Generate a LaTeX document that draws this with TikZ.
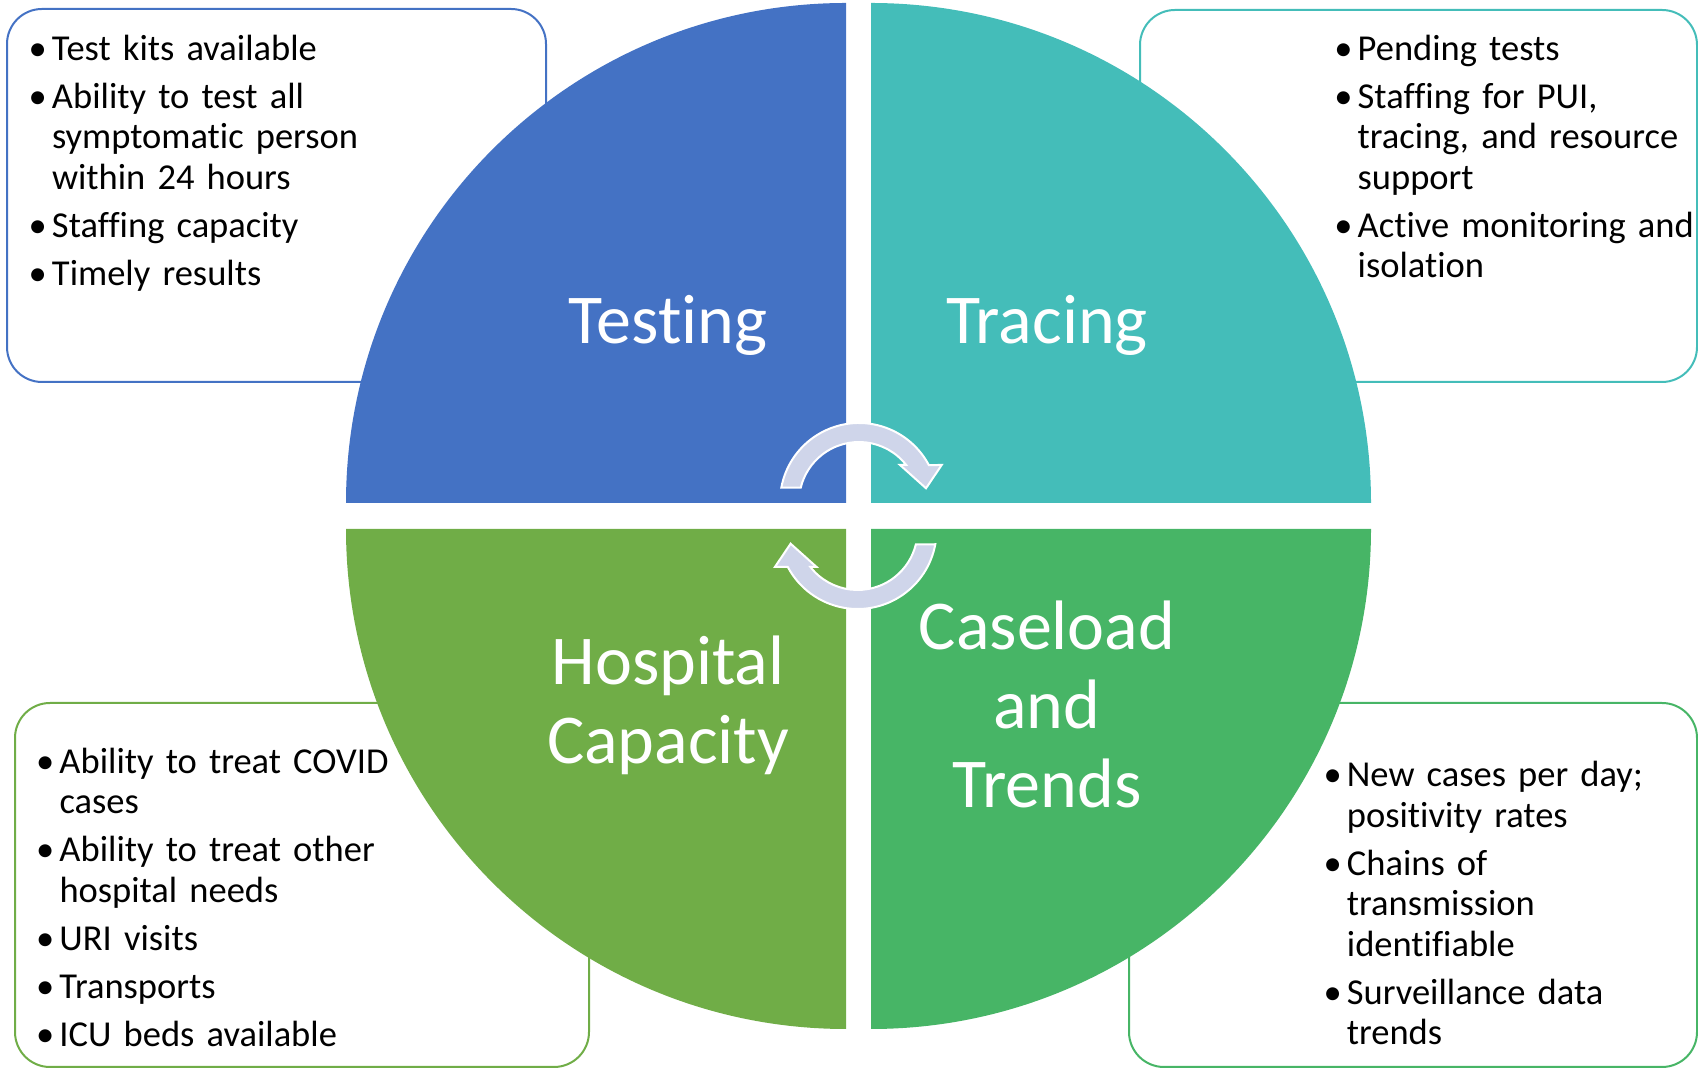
\documentclass[tikz,border=0pt]{standalone}
\usepackage{fontspec}
\setmainfont{Carlito}[Ligatures={NoCommon}]
\definecolor{testblue}{HTML}{4472C4}
\definecolor{traceteal}{HTML}{44BDB9}
\definecolor{hospgreen}{HTML}{70AD47}
\definecolor{casegreen}{HTML}{47B566}
\definecolor{cyclefill}{HTML}{CFD5EA}
\newcommand{\keyitem}[1]{\parskip=7.5pt\hangindent=23.4pt\hangafter=1\noindent\rule{0pt}{30pt}\makebox[23.4pt][l]{•}#1\par}

\begin{document}
\begin{tikzpicture}[x=1pt,y=1pt,
  infobox/.style={draw=#1,line width=2pt,rounded corners=35pt},
  infotext/.style={anchor=north west,inner sep=0pt,text width=520pt,align=left,font=\fontsize{36.5}{40.5}\selectfont},
  quartertitle/.style={text=white,inner sep=0pt,align=center,font=\fontsize{70}{79}\selectfont},
  cycarrow/.style={fill=cyclefill,draw=white,line width=2pt,line join=miter}]
\useasboundingbox (0,0) rectangle (1698,1070);

% boxes behind the disc
\draw[infobox=testblue] (7,688) rectangle (546,1061);
\draw[infobox=traceteal] (1140,688) rectangle (1697,1060);
\draw[infobox=hospgreen] (15,3) rectangle (589,367);
\draw[infobox=casegreen] (1129,3) rectangle (1697,367);

% four quarters
\foreach \c/\x/\y/\a in {testblue/846/567/90,traceteal/871/567/0,hospgreen/846/541/180,casegreen/871/541/270}
  \fill[\c] (\x,\y) -- ++(\a:500) arc[start angle=\a, delta angle=90, radius=500pt] -- cycle;

\node[quartertitle] (testing) at (668,745) {Testing};
\node[quartertitle] (tracing) at (1047,745) {Tracing};
\node[quartertitle] (hospital) at (668,365) {Hospital\\Capacity};
\node[quartertitle] (caseload) at (1047,366) {Caseload\\and\\Trends};

% cycle arrows
\foreach \r in {0,180}
  \filldraw[cycarrow, rotate around={\r:(858.3,554)}] (859,568) ++(169.6:79)
    arc[start angle=169.6, end angle=27.9, radius=79pt] -- (941.7,605) -- (926,581.7)
    -- (900,605) -- (906.2,605) arc[start angle=38.1, end angle=166.2, radius=60pt] -- cycle;

% bullet lists
\node[infotext] (testlist) at (28.4,1040) {\keyitem{Test kits available}\keyitem{Ability to test all\newline symptomatic person\newline within 24 hours}\keyitem{Staffing capacity}\keyitem{Timely results}};
\node[infotext] (tracelist) at (1334.1,1040) {\keyitem{Pending tests}\keyitem{Staffing for PUI,\newline tracing, and resource\newline support}\keyitem{Active monitoring and\newline isolation}};
\node[infotext] (hosplist) at (35.9,327) {\keyitem{Ability to treat COVID\newline cases}\keyitem{Ability to treat other\newline hospital needs}\keyitem{URI visits}\keyitem{Transports}\keyitem{ICU beds available}};
\node[infotext] (caselist) at (1323.3,313.3) {\keyitem{New cases per day;\newline positivity rates}\keyitem{Chains of\newline transmission\newline identifiable}\keyitem{Surveillance data\newline trends}};
\end{tikzpicture}
\end{document}
